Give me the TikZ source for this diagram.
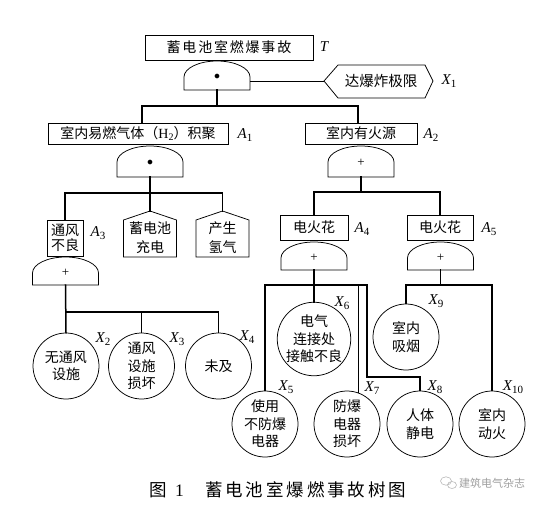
\documentclass[tikz,border=0pt]{standalone}
\usepackage{fontspec}
\setmainfont{Noto Sans CJK SC}
\newfontfamily\lat{Liberation Serif}
\newcommand\kk{\kern1.8pt}
\newcommand\kc{\kern2.9pt}
\newcommand\lb[2]{{\lat\itshape\fontsize{15}{15}\selectfont #1}\kern0.3pt\raisebox{-3.5pt}{\lat\fontsize{11}{11}\selectfont #2}}
\newcommand\mkgate[5]{%
  \draw[shp] ({#2-33},#4) -- ({#2-33},{#3+16})
    .. controls ({#2-33},{#3+7.2}) and ({#2-18.2},#3) .. (#2,#3)
    .. controls ({#2+18.2},#3) and ({#2+33},{#3+7.2}) .. ({#2+33},{#3+16})
    -- ({#2+33},#4) -- cycle;
  \node[gsym] (#1s) at (#2,{(#3+#4)/2+1.5}) {#5};
  \coordinate (#1o) at (#2,#4);
}
\begin{document}
\begin{tikzpicture}[x=1pt,y=-1pt,
  shp/.style={draw,line width=0.75pt},
  conn/.style={line width=1.5pt,line cap=rect},
  box/.style={shp,inner sep=0pt,align=center,font=\fontsize{14}{15.5}\selectfont},
  ev/.style={shp,circle,minimum size=66pt,inner sep=0pt,align=center,font=\fontsize{14}{17.5}\selectfont},
  lbl/.style={inner sep=0pt,font=\fontsize{14}{14}\selectfont},
  txt/.style={inner sep=0pt,align=center,font=\fontsize{14}{19}\selectfont},
  gsym/.style={inner sep=0pt,font=\fontsize{12}{12}\selectfont}]
\useasboundingbox (0,0) rectangle (552,504);

% top event
\node[box,minimum width=168pt,minimum height=25pt] (T) at (229,47.5) {蓄\kk 电\kk 池\kk 室\kk 燃\kk 爆\kk 事\kk 故};
\node[lbl] (Tl) at (324,47) {{\lat\itshape\fontsize{15}{15}\selectfont T}};
\mkgate{g0}{217}{61}{90}{$\bullet$}
\coordinate (g0e) at (250,81);
% X1 hexagon
\node[lbl,font=\fontsize{14.5}{14.5}\selectfont] (X1) at (381,81.5) {达爆炸极限};
\draw[shp] (324,81) coordinate (x1w) -- (338,65) -- (425,65) -- (433,81) -- (425,98) -- (338,98) -- cycle;
\node[lbl] (X1l) at (449,81) {\lb{X}{1}};
\draw[shp] (g0e) -- (x1w);

% A1 and A2
\node[box,minimum width=180pt,minimum height=21pt] (A1) at (138,133.5) {室内易燃气体（{\lat H}\raisebox{-2.5pt}{\lat\fontsize{10}{10}\selectfont 2}）积聚};
\node[lbl] (A1l) at (245,135) {\lb{A}{1}};
\node[box,minimum width=112pt,minimum height=21pt] (A2) at (361,133.5) {室内有火源};
\node[lbl] (A2l) at (431,135) {\lb{A}{2}};
\coordinate (j0) at (217,106);
\draw[conn] (g0o) -- (j0);
\draw[conn] (A1.north -| 142,0) |- (j0) -| (A2.north -| 358,0);

\mkgate{g1}{150}{146}{177}{$\bullet$}
\mkgate{g2}{361}{146}{177}{{\lat\fontsize{13}{13}\selectfont +}}

% under A1
\node[box,minimum width=36pt,minimum height=36pt] (A3) at (65,238) {通风\\不良};
\node[lbl] (A3l) at (98,233) {\lb{A}{3}};
\coordinate (h1p) at (150,211);
\coordinate (h2p) at (222.5,211);
\draw[shp] (h1p) -- ++(26.5,9) -- ++(0,37) -- ++(-53,0) -- ++(0,-37) -- cycle;
\draw[shp] (h2p) -- ++(26.5,9) -- ++(0,37) -- ++(-53,0) -- ++(0,-37) -- cycle;
\node[txt] (H1) at (150,237.5) {蓄电池\\充电};
\node[txt] (H2) at (222.5,237.5) {产生\\氢气};
\coordinate (j1) at (150,193);
\draw[conn] (g1o) -- (h1p);
\draw[conn] (A3.north) |- (j1) -| (h2p);

\mkgate{g3}{65.5}{257}{285}{{\lat\fontsize{13}{13}\selectfont +}}
\coordinate (j3) at (65.5,312);
\node[ev] (X2) at (66,366) {无通风\\设施};
\node[ev] (X3) at (141.5,366) {通风\\设施\\损坏};
\node[ev] (X4) at (218.5,366) {未及};
\node[lbl] (X2l) at (103,339) {\lb{X}{2}};
\node[lbl] (X3l) at (177,339) {\lb{X}{3}};
\node[lbl] (X4l) at (247,337) {\lb{X}{4}};
\draw[conn] (g3o) -- (X2.north);
\draw[conn] (j3) -| (X4.north);
\draw[conn] (X3.north) -- (X3.north |- j3);

% under A2
\coordinate (j2) at (361,192);
\node[box,minimum width=68pt,minimum height=25pt] (A4) at (314,227.5) {电火花};
\node[lbl] (A4l) at (362,229) {\lb{A}{4}};
\node[box,minimum width=66pt,minimum height=25pt] (A5) at (440,227.5) {电火花};
\node[lbl] (A5l) at (489,229) {\lb{A}{5}};
\draw[conn] (g2o) -- (j2);
\draw[conn] (A4.north) |- (j2) -| (A5.north);

\mkgate{g4}{314}{242}{270}{{\lat\fontsize{13}{13}\selectfont +}}
\mkgate{g5}{440.5}{242}{270}{{\lat\fontsize{13}{13}\selectfont +}}

% A4 children
\node[ev] (X5) at (265,424) {使用\\不防爆\\电器};
\node[ev,minimum size=72pt] (X6) at (314,339) {电气\\连接处\\接触不良};
\node[ev] (X7) at (347,424) {防爆\\电器\\损坏};
\node[ev] (X8) at (420,424) {人体\\静电};
\node[lbl] (X5l) at (286,387) {\lb{X}{5}};
\node[lbl] (X6l) at (342,303) {\lb{X}{6}};
\node[lbl] (X7l) at (372,388) {\lb{X}{7}};
\node[lbl] (X8l) at (435,387) {\lb{X}{8}};
\coordinate (j4) at (314,285);
\coordinate (j4r) at (367,285);
\coordinate (k8) at (420,377);
\draw[conn] (g4o) -- (X6.north);
\draw[conn] (X5.north) |- (j4r) |- (k8) -- (X8.north);
\draw[conn] (X7.70 |- j4) -- (X7.70);

% A5 children
\node[ev] (X9) at (406,337) {室内\\吸烟};
\node[ev] (X10) at (492,424) {室内\\动火};
\node[lbl] (X9l) at (436,301) {\lb{X}{9}};
\node[lbl] (X10l) at (513,387) {\lb{X}{10}};
\coordinate (j5) at (440.5,285);
\draw[conn] (g5o) -- (j5);
\draw[conn] (X9.north) |- (j5) -| (X10.north);

% caption
\node[inner sep=0pt,anchor=west,font=\fontsize{17.5}{17.5}\selectfont] (cap1) at (149,490) {图};
\node[inner sep=0pt,font=\lat\fontsize{17.5}{17.5}\selectfont] (cap2) at (179.5,490.5) {1};
\node[inner sep=0pt,anchor=west,font=\fontsize{17.5}{17.5}\selectfont] (cap3) at (205,490) {蓄\kc 电\kc 池\kc 室\kc 爆\kc 燃\kc 事\kc 故\kc 树\kc 图};
% watermark
\draw[gray!55,line width=0.6pt] (446,481) ellipse [x radius=5.5, y radius=4.2];
\draw[gray!55,line width=0.6pt] (452,485) ellipse [x radius=4.5, y radius=3.5];
\node[inner sep=0pt,anchor=west,text=gray!75,font=\fontsize{11}{11}\selectfont] (wm) at (459,483) {建筑电气杂志};
\end{tikzpicture}
\end{document}
